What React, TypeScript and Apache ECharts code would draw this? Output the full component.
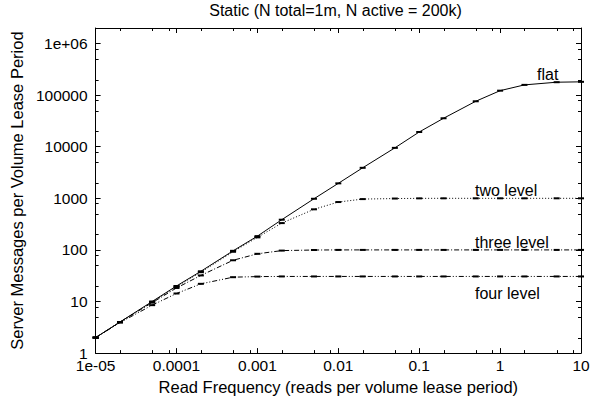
import React, { useEffect, useRef } from 'react';
import * as echarts from 'echarts';

const TITLE = 'Static (N total=1m, N active = 200k)';
const X_NAME = 'Read Frequency (reads per volume lease period)';
const Y_NAME = 'Server Messages per Volume Lease Period';

const X_TICK_LABELS = ['1e-05', '0.0001', '0.001', '0.01', '0.1', '1', '10'];
const X_TICK_EXP = [-5, -4, -3, -2, -1, 0, 1];
const Y_TICK_LABELS = ['1', '10', '100', '1000', '10000', '100000', '1e+06'];
const Y_TICK_EXP = [0, 1, 2, 3, 4, 5, 6];

const X_MIN = 1e-5;
const X_MAX = 10;
const Y_MIN = 1;
const Y_MAX = 2e6;

const X_VALUES = [1e-5, 2e-5, 5e-5, 1e-4, 2e-4, 5e-4, 1e-3, 2e-3, 5e-3, 1e-2, 2e-2, 5e-2, 0.1, 0.2, 0.5, 1, 2, 5, 10];
const FLAT = [2, 4, 10, 20, 38.5, 96, 185, 385, 980, 1950, 3900, 9500, 19300, 35600, 76000, 122000, 158000, 178000, 181000];
const TWO_LEVEL = [2, 4, 9.8, 19.5, 37, 92, 175, 331, 612, 847, 966, 990, 998, 1000, 1000, 1000, 1000, 1000, 1000];
const THREE_LEVEL = [2, 4, 9.5, 18.3, 32, 63, 84, 97, 99.5, 100, 100, 100, 100, 100, 100, 100, 100, 100, 100];
const FOUR_LEVEL = [2, 3.9, 8.5, 14.3, 22, 29.6, 30.4, 30.6, 30.6, 30.6, 30.6, 30.6, 30.6, 30.6, 30.6, 30.6, 30.6, 30.6, 30.6];

const SERIES_NAMES = ['flat', 'two level', 'three level', 'four level'];
const MINOR_STEPS = [2, 5, 8];

const FONT = '"Liberation Sans", Arial, Helvetica, sans-serif';

function fmt(labels: string[], exps: number[]) {
  return (v: number) => {
    const l = Math.log10(v);
    const e = Math.round(l);
    if (Math.abs(l - e) > 1e-6) return '';
    const idx = exps.indexOf(e);
    return idx >= 0 ? labels[idx] : '';
  };
}

function minorValues(minExp: number, maxExp: number, maxVal: number) {
  const out: number[] = [];
  for (let e = minExp; e <= maxExp; e++) {
    for (const s of MINOR_STEPS) {
      const v = s * Math.pow(10, e);
      if (v < maxVal) out.push(v);
    }
  }
  return out;
}

export default function App() {
  const ref = useRef<HTMLDivElement>(null);
  useEffect(() => {
    if (!ref.current) return;
    const chart = echarts.init(ref.current, null, { renderer: 'svg' });
    const xMinor = minorValues(-5, 0, X_MAX);
    const yMinor = minorValues(0, 6, Y_MAX);
    const tickStyle = { stroke: '#000', lineWidth: 1 };

    const mk = (vals: number[]) => X_VALUES.map((x, i) => [x, vals[i]]);
    const dashes: any[] = ['solid', [1, 2], [5, 2, 1, 2], [5, 2, 1, 2, 1, 2]];
    const datas = [FLAT, TWO_LEVEL, THREE_LEVEL, FOUR_LEVEL];

    const axisCommon = {
      type: 'log' as const,
      logBase: 10,
      axisLine: { show: true, lineStyle: { color: '#000', width: 1 } },
      axisTick: { show: true, inside: true, length: 5, lineStyle: { color: '#000', width: 1 } },
      minorTick: { show: false },
      splitLine: { show: false },
    };

    chart.setOption({
      animation: false,
      backgroundColor: '#fff',
      title: {
        text: TITLE,
        left: 335.5,
        textAlign: 'center',
        top: 2,
        padding: 0,
        textStyle: { fontFamily: FONT, fontSize: 16, fontWeight: 'normal', color: '#000' },
      },
      grid: { left: 90, right: 16, top: 28, bottom: 42, containLabel: false },
      xAxis: [
        {
          ...axisCommon,
          min: X_MIN,
          max: X_MAX,
          position: 'bottom',
          axisLabel: { formatter: fmt(X_TICK_LABELS, X_TICK_EXP), color: '#000', fontSize: 15.5, fontFamily: FONT, margin: 4 },
          name: X_NAME,
          nameLocation: 'middle',
          nameGap: 17,
          nameTextStyle: { fontFamily: FONT, fontSize: 16.5, color: '#000' },
        },
        {
          ...axisCommon,
          min: X_MIN,
          max: X_MAX,
          position: 'top',
          axisLabel: { show: false },
        },
      ],
      yAxis: [
        {
          ...axisCommon,
          min: Y_MIN,
          max: Y_MAX,
          position: 'left',
          axisLabel: { formatter: fmt(Y_TICK_LABELS, Y_TICK_EXP), color: '#000', fontSize: 15.5, fontFamily: FONT, margin: 8 },
          name: Y_NAME,
          nameLocation: 'middle',
          nameGap: 56,
          nameTextStyle: { fontFamily: FONT, fontSize: 16.5, color: '#000' },
        },
        {
          ...axisCommon,
          min: Y_MIN,
          max: Y_MAX,
          position: 'right',
          axisLabel: { show: false },
        },
      ],
      series: [
        {
          type: 'custom',
          name: 'xminor',
          silent: true,
          clip: false,
          z: 1,
          encode: { x: 0, y: 1 },
          data: xMinor.map((v) => [v, Y_MIN]),
          renderItem: (_p: any, api: any) => {
            const x = api.value(0);
            const b = api.coord([x, Y_MIN]);
            const t = api.coord([x, Y_MAX]);
            const px = Math.round(b[0]) + 0.5;
            return {
              type: 'group',
              children: [
                { type: 'line', shape: { x1: px, y1: b[1], x2: px, y2: b[1] - 3 }, style: tickStyle },
                { type: 'line', shape: { x1: px, y1: t[1], x2: px, y2: t[1] + 3 }, style: tickStyle },
              ],
            };
          },
        },
        {
          type: 'custom',
          name: 'yminor',
          silent: true,
          clip: false,
          z: 1,
          encode: { x: 0, y: 1 },
          data: yMinor.map((v) => [X_MIN, v]),
          renderItem: (_p: any, api: any) => {
            const y = api.value(1);
            const l = api.coord([X_MIN, y]);
            const r = api.coord([X_MAX, y]);
            const py = Math.round(l[1]) + 0.5;
            return {
              type: 'group',
              children: [
                { type: 'line', shape: { x1: l[0], y1: py, x2: l[0] + 3, y2: py }, style: tickStyle },
                { type: 'line', shape: { x1: r[0], y1: py, x2: r[0] - 3, y2: py }, style: tickStyle },
              ],
            };
          },
        },
        ...datas.map((d, i) => ({
          type: 'line',
          name: SERIES_NAMES[i],
          data: mk(d),
          symbol: 'rect',
          symbolSize: [6, 2],
          showSymbol: true,
          itemStyle: { color: '#000' },
          lineStyle: { color: '#000', width: 1, type: dashes[i] },
          z: 3,
        })),
      ],
      graphic: [
        { type: 'text', left: 537, top: 66, style: { text: SERIES_NAMES[0], fontFamily: FONT, fontSize: 16, fill: '#000' } },
        { type: 'text', left: 475, top: 182, style: { text: SERIES_NAMES[1], fontFamily: FONT, fontSize: 16, fill: '#000' } },
        { type: 'text', left: 475, top: 234, style: { text: SERIES_NAMES[2], fontFamily: FONT, fontSize: 16, fill: '#000' } },
        { type: 'text', left: 475, top: 285, style: { text: SERIES_NAMES[3], fontFamily: FONT, fontSize: 16, fill: '#000' } },
      ],
    });
    return () => chart.dispose();
  }, []);
  return <div ref={ref} style={{ position: 'fixed', left: 0, top: 0, width: 597, height: 400 }} />;
}
